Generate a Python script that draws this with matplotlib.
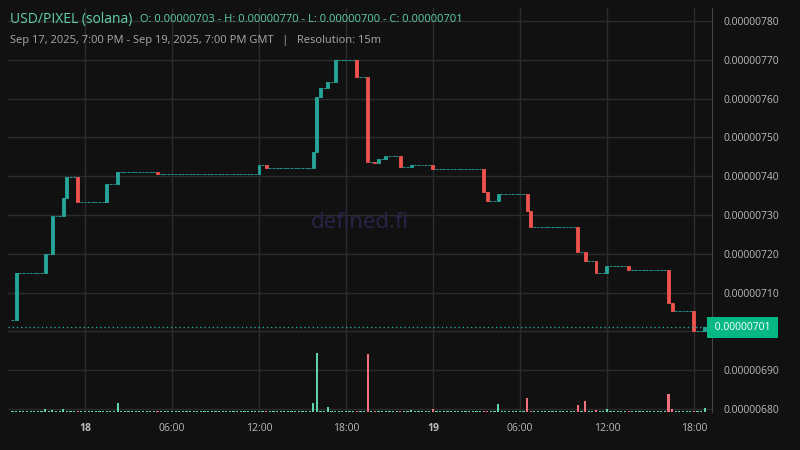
import numpy as np
import matplotlib.pyplot as plt

plt.rcParams['font.family'] = ['Open Sans', 'DejaVu Sans']

# 15m candles, Sep 17 19:00 -> Sep 19 19:00 GMT; close price (units of 1e-9) at the candles where it changes
n_candles = 192
change_idx = [0, 1, 9, 11, 14, 15, 18, 26, 29, 40, 68, 70, 83, 84, 85, 87, 89, 95, 98, 100, 101, 103,
              107, 110, 116, 130, 131, 134, 142, 143, 156, 158, 161, 164, 170, 181, 182, 188, 191]
change_close = [7030, 7150, 7200, 7297, 7344, 7398, 7334, 7380, 7410, 7406, 7429, 7421, 7462, 7604,
                7627, 7643, 7700, 7656, 7437, 7434, 7444, 7453, 7424, 7429, 7419, 7360, 7337, 7353,
                7311, 7270, 7205, 7182, 7151, 7168, 7157, 7074, 7053, 7000, 7010]
first_open = 7030
# volume spikes (arbitrary units), others tiny
vol_idx = [9, 11, 14, 26, 29, 68, 83, 84, 87, 95, 98, 110, 116, 134, 142, 156, 158, 161, 164, 170, 181, 182, 191]
vol_val = [3, 2, 3, 1.5, 9, 1.5, 9, 59, 5, 1.5, 58, 2, 3, 8, 14, 7, 11, 2, 3, 1.5, 18, 3, 4]
base_vol = 0.8
yticks = [6800, 6900, 7000, 7100, 7200, 7300, 7400, 7500, 7600, 7700, 7800]
xtick_pos = [20, 44, 68, 92, 116, 140, 164, 188]
xtick_lab = ['18', '06:00', '12:00', '18:00', '19', '06:00', '12:00', '18:00']

GREEN = '#26a69a'
RED = '#ef5350'
BG = '#111111'

closes = []
cur = first_open
lookup = dict(zip(change_idx, change_close))
for i in range(n_candles):
    cur = lookup.get(i, cur)
    closes.append(cur)
closes = np.array(closes, dtype=float)
opens = np.concatenate([[first_open], closes[:-1]])
vols = np.full(n_candles, base_vol)
vols[vol_idx] = vol_val

fig = plt.figure(figsize=(8, 4.5), dpi=100, facecolor=BG)
ax = fig.add_axes([8 / 800, 38 / 450, 704 / 800, 404 / 450], facecolor=BG)
vax = ax.twinx()

x = np.arange(n_candles)
up = closes >= opens
colors = np.where(up, GREEN, RED)
bottoms = np.minimum(opens, closes)
heights = np.abs(closes - opens)
ax.bar(x, heights, bottom=bottoms, width=0.8, color=colors, edgecolor=colors, linewidth=0.6, zorder=3)
vax.bar(x, vols, width=0.6, color=[('#5fd3b0' if u else '#f0707e') for u in up], zorder=2)
vax.set_ylim(0, 404)
vax.axis('off')

ax.set_xlim(-1.24, 193)
ax.set_ylim(6792, 7834)
ax.set_yticks(yticks)
ax.set_xticks(xtick_pos)
ax.set_xticklabels(xtick_lab)
for lab in ax.get_xticklabels():
    if lab.get_text() in ('18', '19'):
        lab.set_fontweight('bold')
ax.yaxis.tick_right()
# the 0.00000700 label is covered by the last-price tag
ax.set_yticklabels([('' if v == 7000 else f'{v * 1e-9:.8f}') for v in yticks])
ax.tick_params(colors='#bbbbbb', labelsize=7.5, length=0, pad=8)
ax.grid(color='#2c2c2c', linewidth=1)
for side in ('top', 'left', 'bottom'):
    ax.spines[side].set_visible(False)
ax.spines['right'].set_color('#444444')
ax.set_axisbelow(True)

last = closes[-1]
ax.axhline(last, color=GREEN, linestyle=(0, (1, 2)), linewidth=1, zorder=4)
ax.text(1.0, last, f' {last * 1e-9:.8f} ', transform=ax.get_yaxis_transform(), ha='left', va='center',
        fontsize=7.5, color='white', clip_on=False, zorder=6,
        bbox=dict(boxstyle='square,pad=0.45', fc='#08b884', ec='none'))

ax.text(0.5, 0.47, 'defined.fi', transform=ax.transAxes, ha='center', va='center',
        fontsize=16, color='#28244a', zorder=1)

fig.text(10 / 800, 1 - 20 / 450, 'USD/PIXEL (solana)', color='#5ecfaa', fontsize=10, va='center')
fig.text(140 / 800, 1 - 20 / 450, 'O: 0.00000703 - H: 0.00000770 - L: 0.00000700 - C: 0.00000701',
         color='#5ecfaa', fontsize=8, va='center')
fig.text(10 / 800, 1 - 41 / 450, 'Sep 17, 2025, 7:00 PM - Sep 19, 2025, 7:00 PM GMT   |   Resolution: 15m',
         color='#aaaaaa', fontsize=8, va='center')

fig.savefig('out.png', dpi=100, facecolor=BG)
